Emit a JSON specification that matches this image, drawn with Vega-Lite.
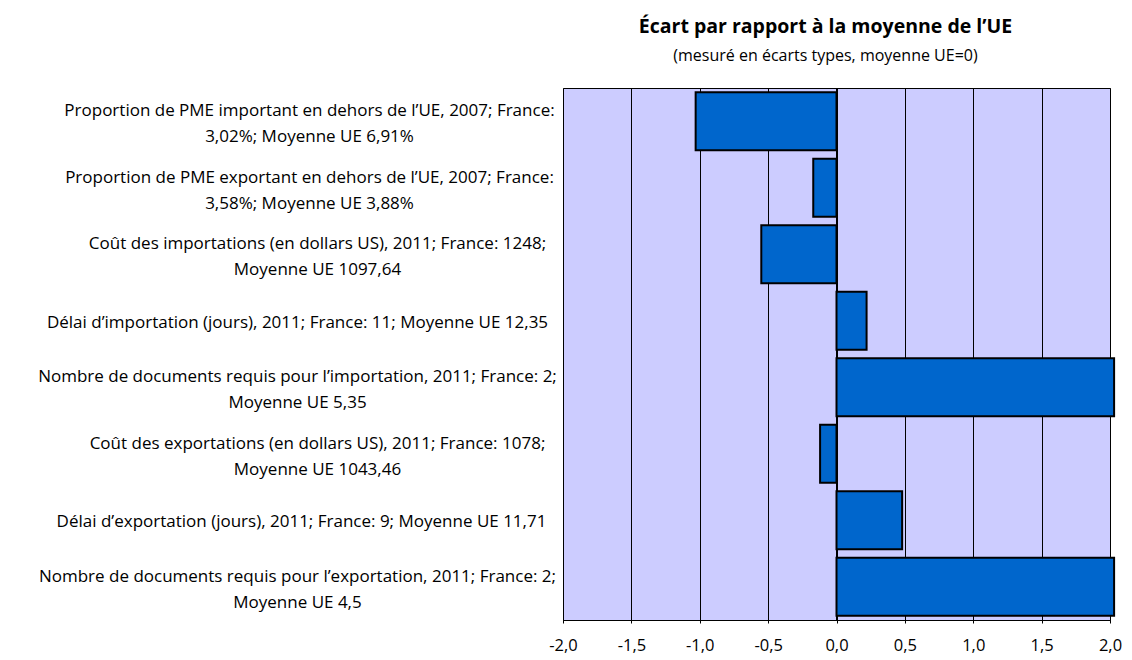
{
  "$schema": "https://vega.github.io/schema/vega-lite/v6.json",
  "width": 547,
  "height": 532,
  "autosize": "none",
  "padding": {"left": 563, "top": 88, "right": 22, "bottom": 40},
  "background": "white",
  "config": {
    "font": "Open Sans",
    "view": {"fill": "#CCCCFF", "stroke": "black", "strokeWidth": 1}
  },
  "title": {
    "text": "Écart par rapport à la moyenne de l’UE",
    "subtitle": "(mesuré en écarts types, moyenne UE=0)",
    "anchor": "middle",
    "frame": "group",
    "dx": -11,
    "font": "Open Sans",
    "subtitleFont": "Open Sans",
    "fontSize": 19.5,
    "fontWeight": "bold",
    "subtitleFontSize": 16,
    "color": "black",
    "subtitleColor": "black",
    "subtitlePadding": 10,
    "offset": 23
  },
  "data": {
    "values": [
      {"indicateur": "Proportion de PME important en dehors de l’UE, 2007; France:\n3,02%; Moyenne UE 6,91%", "ecart": -1.03},
      {"indicateur": "Proportion de PME exportant en dehors de l’UE, 2007; France:\n3,58%; Moyenne UE 3,88%", "ecart": -0.17},
      {"indicateur": "Coût des importations (en dollars US), 2011; France: 1248;\nMoyenne UE 1097,64", "ecart": -0.55},
      {"indicateur": "Délai d’importation (jours), 2011; France: 11; Moyenne UE 12,35", "ecart": 0.22},
      {"indicateur": "Nombre de documents requis pour l’importation, 2011; France: 2;\nMoyenne UE 5,35", "ecart": 2.03},
      {"indicateur": "Coût des exportations (en dollars US), 2011; France: 1078;\nMoyenne UE 1043,46", "ecart": -0.12},
      {"indicateur": "Délai d’exportation (jours), 2011; France: 9; Moyenne UE 11,71", "ecart": 0.48},
      {"indicateur": "Nombre de documents requis pour l’exportation, 2011; France: 2;\nMoyenne UE 4,5", "ecart": 2.03}
    ]
  },
  "layer": [
    {
      "mark": {"type": "bar", "color": "#0066CC", "stroke": "black", "strokeWidth": 2},
      "encoding": {
        "y": {
          "field": "indicateur",
          "type": "nominal",
          "sort": null,
          "scale": {"paddingInner": 0.13, "paddingOuter": 0.065},
          "axis": {
            "title": null,
            "domain": false,
            "ticks": false,
            "labelExpr": "split(datum.label, '\\n')",
            "labelAlign": "center",
            "labelBaseline": "middle",
            "labelPadding": {"expr": "14 + 4.0 * max(length(split(datum.value, '\\n')[0]), length(split(datum.value, '\\n')[1] || ''))"},
            "labelOffset": {"expr": "indexof(datum.value, '\\n') >= 0 ? -10 : 2"},
            "labelFontSize": 17,
            "labelLineHeight": 26,
            "labelColor": "black",
            "labelLimit": 0
          }
        },
        "x": {
          "field": "ecart",
          "type": "quantitative",
          "scale": {"domain": [-2, 2], "nice": false},
          "axis": {
            "title": null,
            "values": [-2, -1.5, -1, -0.5, 0, 0.5, 1, 1.5, 2],
            "labelExpr": "replace(replace(format(datum.value, '.1f'), '.', ','), '\u2212', '-')",
            "grid": true,
            "gridColor": "black",
            "gridOpacity": 1,
            "gridWidth": 1,
            "domainColor": "black",
            "tickColor": "black",
            "tickSize": 3,
            "labelFontSize": 16.5,
            "labelPadding": 14,
            "labelColor": "black",
            "labelFlush": false
          }
        }
      }
    },
    {
      "mark": {"type": "rule", "color": "black", "strokeWidth": 1},
      "encoding": {"x": {"datum": 0}}
    }
  ]
}
